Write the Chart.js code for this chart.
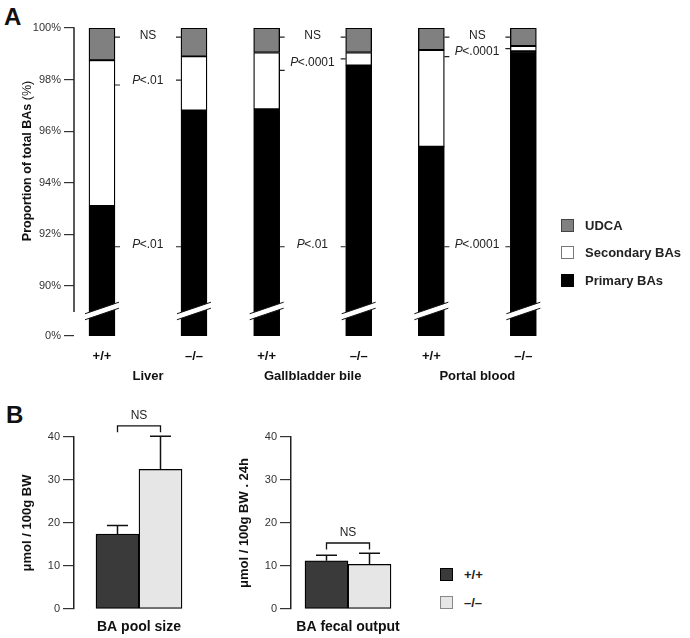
<!DOCTYPE html>
<html><head><meta charset="utf-8">
<script src="https://cdn.jsdelivr.net/npm/chart.js@4/dist/chart.umd.min.js"></script>
<style>
html,body{margin:0;padding:0;background:#fff;width:690px;height:638px;overflow:hidden;font-family:'Liberation Sans',Arial,Helvetica,sans-serif;}
.abs{position:absolute;}
.panel{font-weight:bold;font-size:24px;line-height:24px;color:#111;}
.leg{font-weight:bold;font-size:13px;color:#222;display:flex;align-items:center;height:16px;white-space:nowrap;}
.sw{width:13px;height:13px;box-sizing:border-box;margin-right:11px;}
</style></head><body>
<div class="abs panel" style="left:4px;top:5px;">A</div>
<div class="abs panel" style="left:6px;top:403px;">B</div>
<canvas id="cA" class="abs" style="left:0;top:0;" width="690" height="390"></canvas>
<canvas id="cB1" class="abs" style="left:0;top:400px;" width="230" height="238"></canvas>
<canvas id="cB2" class="abs" style="left:217px;top:400px;" width="213" height="238"></canvas>
<div class="abs" id="legA" style="left:561px;top:217px;"></div>
<div class="abs" id="legB" style="left:440px;top:566px;"></div>
<script>
// ---------- DATA ----------
const groups = ['Liver', 'Gallbladder bile', 'Portal blood'];
const genotypes = ['+/+', '\u2013/\u2013'];
// bar order: Liver +/+, Liver -/-, Gallbladder +/+, Gallbladder -/-, Portal +/+, Portal -/-
const primaryBAs   = [93.1, 96.8, 96.85, 98.55, 95.4, 99.1];
const secondaryBAs = [5.65, 2.1, 2.2, 0.5, 3.75, 0.2];
const udca         = [1.25, 1.1, 0.95, 0.95, 0.85, 0.7];
const pTop    = ['NS', 'NS', 'NS'];
const pMid    = ['P<.01', 'P<.0001', 'P<.0001'];
const pBottom = ['P<.01', 'P<.01', 'P<.0001'];
const yTicksA = [90, 92, 94, 96, 98, 100];

const poolSize    = [17.4, 32.5];
const poolSizeErr = [2.0, 7.7];
const fecalOutput = [11.2, 10.4];
const fecalErr    = [1.3, 2.55];
const yTicksB = [0, 10, 20, 30, 40];

// ---------- LAYOUT CONSTANTS ----------
const FONT = "'Liberation Sans', Arial, Helvetica, sans-serif";
const AXIS_ZERO = 88.06;   // where 0% sits on the broken axis
const BREAK_AT = 89.03;    // break mark position
const GROUP_STEP = 1.79;
const C_PRIMARY = '#000000', C_SECOND = '#ffffff', C_UDCA = '#808080';
const C_WT = '#3a3a3a', C_KO = '#e6e6e6';
// significance annotation y-values: [label, tick next to +/+, tick next to -/-]
const sigPos = {
  top:    [[99.72, 99.65, 99.65], [99.72, 99.65, 99.65], [99.72, 99.65, 99.65]],
  mid:    [[97.96, 97.79, 97.98], [98.66, 98.36, 98.8], [99.1, 98.89, 99.2]],
  bottom: [[91.6, 91.52, 91.52], [91.6, 91.52, 91.52], [91.6, 91.52, 91.52]]
};

Chart.defaults.font.family = FONT;
Chart.defaults.color = '#333';
Chart.defaults.animation = false;

// ---------- PANEL A ----------
const xPos = primaryBAs.map((_, i) => Math.floor(i / 2) * GROUP_STEP + (i % 2));
const zeroDisp = AXIS_ZERO;
const commonBar = {borderColor: '#000', borderWidth: 1.3, borderSkipped: false, grouped: false, barThickness: 26};
const dsA = [
  Object.assign({label: 'Primary BAs', backgroundColor: C_PRIMARY,
    data: primaryBAs.map((p, i) => ({x: xPos[i], y: [zeroDisp, p]}))}, commonBar),
  Object.assign({label: 'Secondary BAs', backgroundColor: C_SECOND,
    data: primaryBAs.map((p, i) => ({x: xPos[i], y: [p, p + secondaryBAs[i]]}))}, commonBar),
  Object.assign({label: 'UDCA', backgroundColor: C_UDCA,
    data: primaryBAs.map((p, i) => ({x: xPos[i], y: [p + secondaryBAs[i], p + secondaryBAs[i] + udca[i]]}))}, commonBar)
];

function drawP(ctx, txt, cx, cy) {
  ctx.textBaseline = 'middle';
  ctx.textAlign = 'left';
  ctx.fillStyle = '#222';
  if (txt.startsWith('P')) {
    const rest = txt.slice(1);
    ctx.font = 'italic 12px ' + FONT; const w1 = ctx.measureText('P').width;
    ctx.font = '12px ' + FONT; const w2 = ctx.measureText(rest).width;
    const x0 = cx - (w1 + w2) / 2;
    ctx.font = 'italic 12px ' + FONT; ctx.fillText('P', x0, cy);
    ctx.font = '12px ' + FONT; ctx.fillText(rest, x0 + w1 - 0.5, cy);
  } else {
    ctx.font = '12px ' + FONT;
    ctx.textAlign = 'center';
    ctx.fillText(txt, cx, cy);
  }
}

const pluginA = {
  id: 'panelA',
  afterDatasetsDraw(chart) {
    const ctx = chart.ctx, ys = chart.scales.y, ca = chart.chartArea;
    ctx.save();
    // axis line (broken)
    ctx.strokeStyle = '#222'; ctx.lineWidth = 1.5;
    ctx.beginPath();
    ctx.moveTo(ca.left, ys.getPixelForValue(100) - 0.7);
    ctx.lineTo(ca.left, ys.getPixelForValue(BREAK_AT) + 1);
    ctx.stroke();
    // break marks over bars
    const meta = chart.getDatasetMeta(0);
    const yc = ys.getPixelForValue(BREAK_AT);
    meta.data.forEach(bar => {
      const L = bar.x - bar.width / 2 - 4, R = bar.x + bar.width / 2 + 4;
      const h = (R - L) * 0.34 / 2;
      ctx.fillStyle = '#fff';
      ctx.beginPath();
      ctx.moveTo(L, yc + h - 3);
      ctx.lineTo(R, yc - h - 3);
      ctx.lineTo(R, yc - h + 3);
      ctx.lineTo(L, yc + h + 3);
      ctx.closePath();
      ctx.fill();
      ctx.strokeStyle = '#111'; ctx.lineWidth = 1;
      ctx.beginPath();
      ctx.moveTo(L, yc + h - 3); ctx.lineTo(R, yc - h - 3);
      ctx.moveTo(L, yc + h + 3); ctx.lineTo(R, yc - h + 3);
      ctx.stroke();
    });
    // significance annotations
    const rows = [['top', pTop], ['mid', pMid], ['bottom', pBottom]];
    groups.forEach((g, gi) => {
      const b1 = meta.data[gi * 2], b2 = meta.data[gi * 2 + 1];
      const cx = (b1.x + b2.x) / 2;
      rows.forEach(([key, labels]) => {
        const pos = sigPos[key][gi];
        drawP(ctx, labels[gi], cx, ys.getPixelForValue(pos[0]));
        ctx.strokeStyle = '#222'; ctx.lineWidth = 1.2;
        ctx.beginPath();
        const r1 = b1.x + b1.width / 2, l2 = b2.x - b2.width / 2;
        const t1 = ys.getPixelForValue(pos[1]), t2 = ys.getPixelForValue(pos[2]);
        ctx.moveTo(r1, t1); ctx.lineTo(r1 + 5, t1);
        ctx.moveTo(l2 - 5, t2); ctx.lineTo(l2, t2);
        ctx.stroke();
      });
      // group label
      ctx.fillStyle = '#111';
      ctx.font = 'bold 13px ' + FONT;
      ctx.textAlign = 'center'; ctx.textBaseline = 'middle';
      ctx.fillText(g, cx, ca.bottom + 40);
    });
    // y axis title (bold + regular)
    const t1 = 'Proportion of total BAs ', t2 = '(%)';
    ctx.translate(28, 161);
    ctx.rotate(-Math.PI / 2);
    ctx.font = 'bold 12.5px ' + FONT; const w1 = ctx.measureText(t1).width;
    ctx.font = '12.5px ' + FONT; const w2 = ctx.measureText(t2).width;
    ctx.textAlign = 'left'; ctx.textBaseline = 'middle'; ctx.fillStyle = '#111';
    ctx.font = 'bold 12.5px ' + FONT; ctx.fillText(t1, -(w1 + w2) / 2, 0);
    ctx.font = '12.5px ' + FONT; ctx.fillText(t2, -(w1 + w2) / 2 + w1, 0);
    ctx.restore();
  }
};

new Chart(document.getElementById('cA'), {
  type: 'bar',
  data: {datasets: dsA},
  options: {
    responsive: false,
    layout: {padding: {top: 28, right: 36, bottom: 0, left: 0}},
    plugins: {legend: {display: false}, tooltip: {enabled: false}},
    scales: {
      x: {
        type: 'linear', min: -0.304, max: 6.0, offset: false,
        afterBuildTicks: s => { s.ticks = xPos.map(v => ({value: v})); },
        afterFit: s => { s.height = 54; },
        grid: {display: false}, border: {display: false},
        ticks: {
          autoSkip: false, maxRotation: 0, minRotation: 0, padding: 5,
          color: '#111', font: {size: 13, weight: 'bold'},
          callback: (v, i) => genotypes[i % 2]
        }
      },
      y: {
        type: 'linear', min: AXIS_ZERO, max: 100,
        afterBuildTicks: s => { s.ticks = [AXIS_ZERO].concat(yTicksA).map(v => ({value: v})); },
        afterFit: s => { s.width = 74; },
        grid: {display: true, drawOnChartArea: false, drawTicks: true, tickLength: 10, color: '#333', lineWidth: 1.2},
        border: {display: false},
        ticks: {padding: 3, color: '#333', font: {size: 11},
          callback: v => (v < 90 ? '0' : v) + '%'}
      }
    }
  },
  plugins: [pluginA]
});

// ---------- PANEL B ----------
function makeB(id, values, errs, xTitle, yTitle) {
  const pluginB = {
    id: 'errB',
    afterDatasetsDraw(chart) {
      const ctx = chart.ctx, ys = chart.scales.y;
      ctx.save();
      ctx.strokeStyle = '#111'; ctx.lineWidth = 1.5;
      const xsC = [];
      let maxTop = 0;
      values.forEach((v, i) => {
        const bar = chart.getDatasetMeta(i).data[0];
        xsC.push(bar.x);
        const yt = ys.getPixelForValue(v + errs[i]);
        maxTop = Math.max(maxTop, v + errs[i]);
        ctx.beginPath();
        ctx.moveTo(bar.x, bar.y); ctx.lineTo(bar.x, yt);
        ctx.moveTo(bar.x - 10.5, yt); ctx.lineTo(bar.x + 10.5, yt);
        ctx.stroke();
      });
      // NS bracket
      const yb = ys.getPixelForValue(maxTop + 2.4), yd = ys.getPixelForValue(maxTop + 0.9);
      ctx.lineWidth = 1.3;
      ctx.beginPath();
      ctx.moveTo(xsC[0], yd); ctx.lineTo(xsC[0], yb); ctx.lineTo(xsC[1], yb); ctx.lineTo(xsC[1], yd);
      ctx.stroke();
      drawP(ctx, 'NS', (xsC[0] + xsC[1]) / 2, yb - 10);
      ctx.restore();
    }
  };
  return new Chart(document.getElementById(id), {
    type: 'bar',
    data: {
      labels: [''],
      datasets: [
        {label: genotypes[0], data: [values[0]], backgroundColor: C_WT, borderColor: '#000', borderWidth: 1.3, borderSkipped: false, barThickness: 43},
        {label: genotypes[1], data: [values[1]], backgroundColor: C_KO, borderColor: '#000', borderWidth: 1.3, borderSkipped: false, barThickness: 43}
      ]
    },
    options: {
      responsive: false,
      layout: {padding: {top: 37, right: id === 'cB1' ? 26 : 25, bottom: 0, left: 0}},
      plugins: {legend: {display: false}, tooltip: {enabled: false}},
      scales: {
        x: {
          grid: {display: false}, border: {display: false},
          ticks: {display: false},
          afterFit: s => { s.height = 29; },
          title: {display: true, text: xTitle, color: '#111', font: {size: 14, weight: 'bold'}, padding: {top: 0, bottom: 2}}
        },
        y: {
          min: 0, max: 40,
          afterBuildTicks: s => { s.ticks = yTicksB.map(v => ({value: v})); },
          afterFit: s => { s.width = 74; },
          grid: {display: true, drawOnChartArea: false, drawTicks: true, tickLength: 11, color: '#333', lineWidth: 1.2},
          border: {display: true, color: '#222', width: 1.5},
          ticks: {padding: 3, color: '#333', font: {size: 11}},
          title: {display: true, text: yTitle, color: '#111', font: {size: 13, weight: 'bold'}, padding: {top: 20, bottom: 0}}
        }
      }
    },
    plugins: [pluginB]
  });
}
makeB('cB1', poolSize, poolSizeErr, 'BA pool size', '\u03BCmol / 100g BW');
makeB('cB2', fecalOutput, fecalErr, 'BA fecal output', '\u03BCmol / 100g BW . 24h');

// ---------- LEGENDS ----------
function legend(elId, items) {
  const el = document.getElementById(elId);
  items.forEach(([txt, fill, border], i) => {
    const row = document.createElement('div');
    row.className = 'leg';
    row.style.marginBottom = i < items.length - 1 ? (elId === 'legA' ? '11.5px' : '12px') : '0';
    row.innerHTML = '<div class="sw" style="background:' + fill + ';border:1.3px solid ' + border + '"></div><span>' + txt + '</span>';
    el.appendChild(row);
  });
}
legend('legA', [['UDCA', C_UDCA, '#444'], ['Secondary BAs', C_SECOND, '#777'], ['Primary BAs', C_PRIMARY, '#000']]);
legend('legB', [[genotypes[0], C_WT, '#000'], [genotypes[1], C_KO, '#888']]);
</script>
</body></html>
